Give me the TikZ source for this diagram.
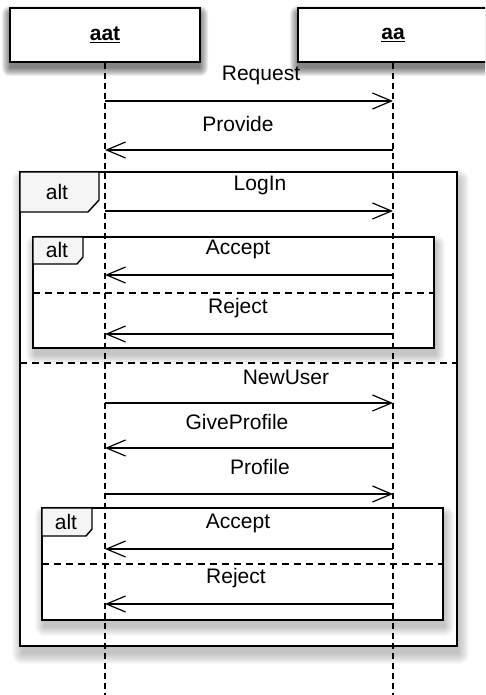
\documentclass[tikz,border=0pt]{standalone}
\usepackage{fontspec}
\setmainfont{Liberation Sans}
\usetikzlibrary{arrows.meta}
\tikzset{
  objbox/.style={draw=black, line width=1.4pt, fill=white, minimum width=190pt, minimum height=54pt,
    inner sep=0pt, font=\fontsize{21}{24}\selectfont\bfseries},
  frame/.style={draw=black, line width=1.4pt, fill=white},
  tab/.style={draw=black, line width=1.4pt, fill=gray!8},
  lifeline/.style={draw=black, line width=1.2pt, dash pattern=on 6pt off 4pt},
  divider/.style={draw=black, line width=1.2pt, dash pattern=on 7pt off 5pt},
  msg/.style={draw=black, line width=1.2pt, -{Straight Barb[length=19pt,width=16pt,line width=1.2pt]}},
  lbl/.style={font=\fontsize{21}{24}\selectfont, inner sep=0pt},
  tablbl/.style={font=\fontsize{21}{24}\selectfont, inner sep=0pt},
}
% soft shadow: x1 y1 x2 y2 dx dy opacity spread
\newcommand\mysoftshadow[8]{%
  \foreach \r in {#8,...,0}{%
    \fill[black, opacity=#7, rounded corners=\r pt]
      ({#1+#5-\r},{#2+#6-\r}) rectangle ({#3+#5+\r},{#4+#6+\r});
  }%
}
\begin{document}
\begin{tikzpicture}[x=1pt,y=-1pt]
\useasboundingbox (0,0) rectangle (485,695);
\begin{scope}
\clip (0,0) rectangle (485,695);
% shadows
\mysoftshadow{10}{8}{200}{62}{0}{6}{0.07}{8}
\mysoftshadow{298}{8}{488}{62}{0}{6}{0.07}{8}
\mysoftshadow{20}{172}{457}{646}{2}{8}{0.025}{10}
% object boxes
\node[objbox] (aat) at (105,35) {\underline{aat}};
\node[objbox] (aa) at (393,35) {\underline{aa}};

% frames
\draw[frame] (20,172) rectangle (457,646);
\draw[tab] (20,172) -- (99,172) -- (99,200) -- (88,212) -- (20,212) -- cycle;
\node[tablbl] (t1) at (57,192) {alt};
\draw[divider] (20,363) -- (457,363);

\mysoftshadow{33}{237}{434}{348}{2}{7}{0.025}{9}
\draw[frame] (33,237) rectangle (434,348);
\draw[tab] (33,237) -- (83,237) -- (83,257) -- (77,264) -- (33,264) -- cycle;
\node[tablbl] (t2) at (57,250) {alt};
\draw[divider] (33,293) -- (434,293);

\mysoftshadow{42}{508}{443}{620}{2}{7}{0.025}{9}
\draw[frame] (42,508) rectangle (443,620);
\draw[tab] (42,508) -- (92,508) -- (92,529) -- (86,536) -- (42,536) -- cycle;
\node[tablbl] (t3) at (66,522) {alt};
\draw[divider] (42,564) -- (443,564);

% lifelines
\coordinate (aatEnd) at (105,695);
\coordinate (aaEnd) at (393,695);
\draw[lifeline] (aat.south) -- (aatEnd);
\draw[lifeline] (aa.south) -- (aaEnd);

% message end points
\foreach \n/\y in {m1/101,m2/150,m3/211,m4/275,m5/334,m6/403,m7/448,m8/494,m9/549,m10/604}{
  \coordinate (\n L) at (105,\y);
  \coordinate (\n R) at (393,\y);
}
% messages
\draw[msg] (m1L) -- (m1R);
\draw[msg] (m2R) -- (m2L);
\draw[msg] (m3L) -- (m3R);
\draw[msg] (m4R) -- (m4L);
\draw[msg] (m5R) -- (m5L);
\draw[msg] (m6L) -- (m6R);
\draw[msg] (m7R) -- (m7L);
\draw[msg] (m8L) -- (m8R);
\draw[msg] (m9R) -- (m9L);
\draw[msg] (m10R) -- (m10L);

% labels
\node[lbl] (l1) at (261,75) {Request};
\node[lbl] (l2) at (238,124) {Provide};
\node[lbl] (l3) at (260,185) {LogIn};
\node[lbl] (l4) at (238,249) {Accept};
\node[lbl] (l5) at (238,308) {Reject};
\node[lbl] (l6) at (286,377) {NewUser};
\node[lbl] (l7) at (237,422) {GiveProfile};
\node[lbl] (l8) at (260,467) {Profile};
\node[lbl] (l9) at (238,523) {Accept};
\node[lbl] (l10) at (236,578) {Reject};
\end{scope}
\end{tikzpicture}
\end{document}
